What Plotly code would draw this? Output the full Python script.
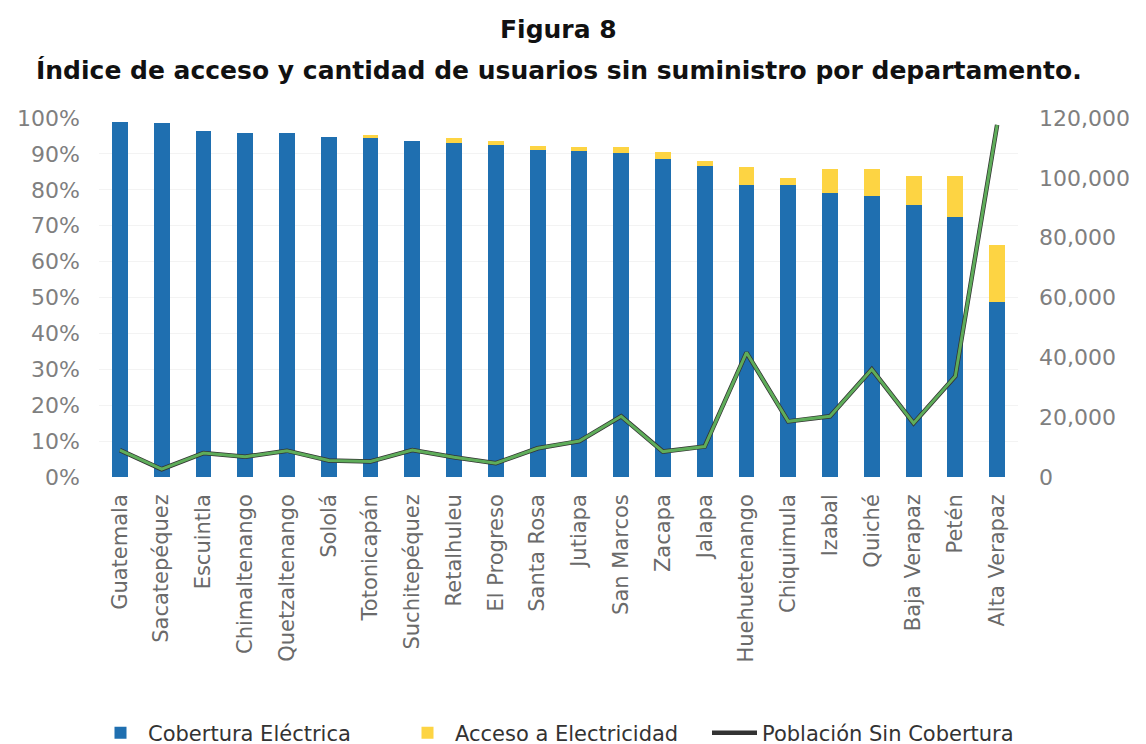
import plotly.graph_objects as go

departamentos = ["Guatemala", "Sacatepéquez", "Escuintla", "Chimaltenango", "Quetzaltenango",
                 "Sololá", "Totonicapán", "Suchitepéquez", "Retalhuleu", "El Progreso",
                 "Santa Rosa", "Jutiapa", "San Marcos", "Zacapa", "Jalapa", "Huehuetenango",
                 "Chiquimula", "Izabal", "Quiché", "Baja Verapaz", "Petén", "Alta Verapaz"]

cobertura = [0.990, 0.987, 0.965, 0.957, 0.957, 0.948, 0.945, 0.937, 0.929, 0.925, 0.911,
             0.909, 0.903, 0.887, 0.867, 0.813, 0.812, 0.791, 0.784, 0.758, 0.725, 0.488]
acceso_total = [0.990, 0.987, 0.965, 0.957, 0.957, 0.948, 0.953, 0.937, 0.943, 0.937, 0.923,
                0.920, 0.920, 0.906, 0.881, 0.863, 0.832, 0.859, 0.859, 0.838, 0.838, 0.646]
poblacion_sin = [9000, 2600, 8000, 6800, 8800, 5500, 5200, 9000, 6600, 4600, 9600,
                 12000, 20300, 8500, 10200, 41600, 18600, 20300, 36000, 18000, 33700, 117700]

titulo = "Figura 8"
subtitulo = "Índice de acceso y cantidad de usuarios sin suministro por departamento."

acceso_extra = [a - c for a, c in zip(acceso_total, cobertura)]

fig = go.Figure()
fig.add_trace(go.Bar(x=departamentos, y=cobertura, name="Cobertura Eléctrica",
                     marker=dict(color="#1f6fb0", line=dict(width=0))))
fig.add_trace(go.Bar(x=departamentos, y=acceso_extra, name="Acceso a Electricidad",
                     marker=dict(color="#fdd443", line=dict(width=0))))
fig.add_trace(go.Scatter(x=departamentos, y=poblacion_sin, name="Población Sin Cobertura",
                         yaxis="y2", mode="lines", line=dict(color="#333333", width=4.5)))
fig.add_trace(go.Scatter(x=departamentos, y=poblacion_sin, name="Población Sin Cobertura",
                         yaxis="y2", mode="lines", line=dict(color="#5fad5a", width=3),
                         showlegend=False))

tick_font = dict(family="DejaVu Sans", size=22, color="#7f7f7f")
title_font = dict(family="DejaVu Sans", size=25, color="#111111", weight="bold")

T, B, L, R = 110, 275, 91, 136
PH = 744 - T - B
PW = 1146 - L - R

fig.update_layout(
    width=1146, height=744,
    paper_bgcolor="white", plot_bgcolor="white",
    barmode="stack", bargap=0.62,
    margin=dict(l=L, r=R, t=T, b=B, autoexpand=False),
    annotations=[
        dict(text=titulo, x=0.5, xref="paper", y=1 + (T - 22) / PH, yref="paper",
             yanchor="middle", showarrow=False, font=title_font),
        dict(text=subtitulo, x=0.5, xref="paper", y=1 + (T - 62) / PH, yref="paper",
             yanchor="middle", showarrow=False, font=title_font),
    ],
    xaxis=dict(tickangle=-90, tickfont=dict(family="DejaVu Sans", size=21, color="#6a6a6a"),
               showgrid=False, showline=False, ticks="", ticklabelstandoff=12,
               range=[-0.5, 21.5]),
    yaxis=dict(range=[0, 1], dtick=0.1, tickformat=".0%", tickfont=tick_font,
               showgrid=True, gridcolor="#f3f3f3", zeroline=False, showline=False,
               ticklabelstandoff=18),
    yaxis2=dict(range=[0, 120000], dtick=20000, tickformat=",", tickfont=tick_font,
                overlaying="y", side="right", showgrid=False, zeroline=False,
                showline=False, ticklabelstandoff=20),
    legend=dict(orientation="h", x=(85 - L) / PW, xanchor="left",
                y=-(725 - (744 - B)) / PH, yanchor="middle",
                font=dict(family="DejaVu Sans", size=21, color="#333333"),
                entrywidth=247, itemwidth=45, traceorder="normal"),
)

fig.write_html("out.html")
